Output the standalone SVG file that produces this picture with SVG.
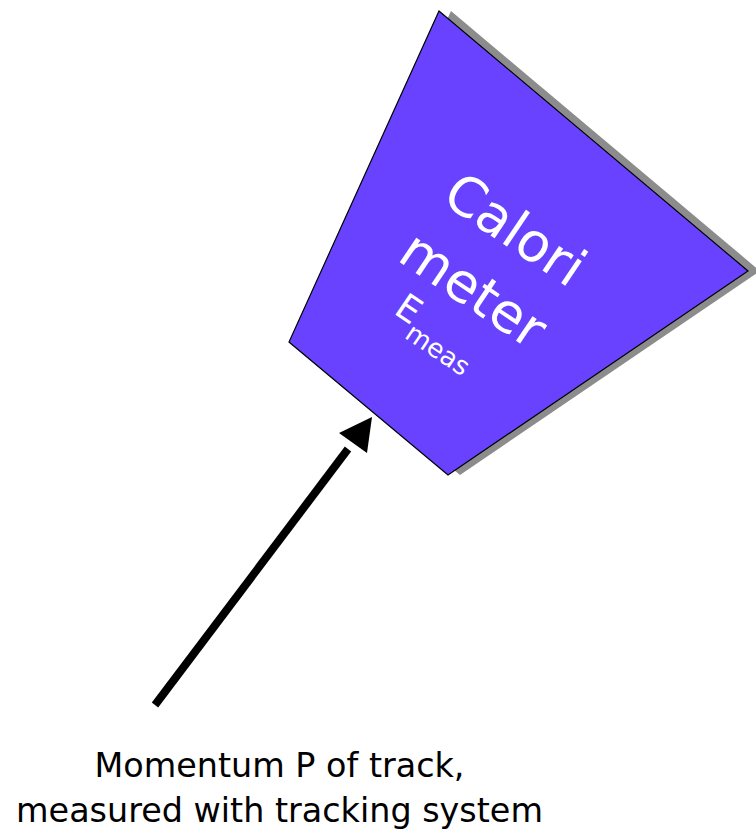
<svg xmlns="http://www.w3.org/2000/svg" width="756" height="832" viewBox="0 0 756 832">
<style>
.lbl{font-family:"DejaVu Sans","Verdana",sans-serif;}
.cal{fill:#ffffff;}
.cap{fill:#000000;font-size:33.4px;}
</style>
<rect width="756" height="832" fill="#fff"/>
<g id="calorimeter">
<polygon points="451,11 760,271 460,475 301,342" fill="#8c8c8c"/>
<polygon points="439,11 748,271 448,475 289,342" fill="#6842ff" stroke="#000" stroke-width="1.2"/>
<g transform="translate(515,235) rotate(34)" class="lbl cal">
<text x="-3" y="14" font-size="54" text-anchor="middle">Calori</text>
<text x="-4" y="87" font-size="54" text-anchor="middle">meter</text>
<text x="-58" y="133" font-size="36">E<tspan font-size="26" dy="14">meas</tspan></text>
</g>
</g>
<g id="connectors">
<line x1="155" y1="705" x2="348" y2="449" stroke="#000" stroke-width="8"/>
<polygon points="372,417 367,453 339,433" fill="#000"/>
</g>
<g id="caption" class="lbl cap">
<text x="279.5" y="777" text-anchor="middle">Momentum P of track,</text>
<text x="279.5" y="822" text-anchor="middle">measured with tracking system</text>
</g>
</svg>
